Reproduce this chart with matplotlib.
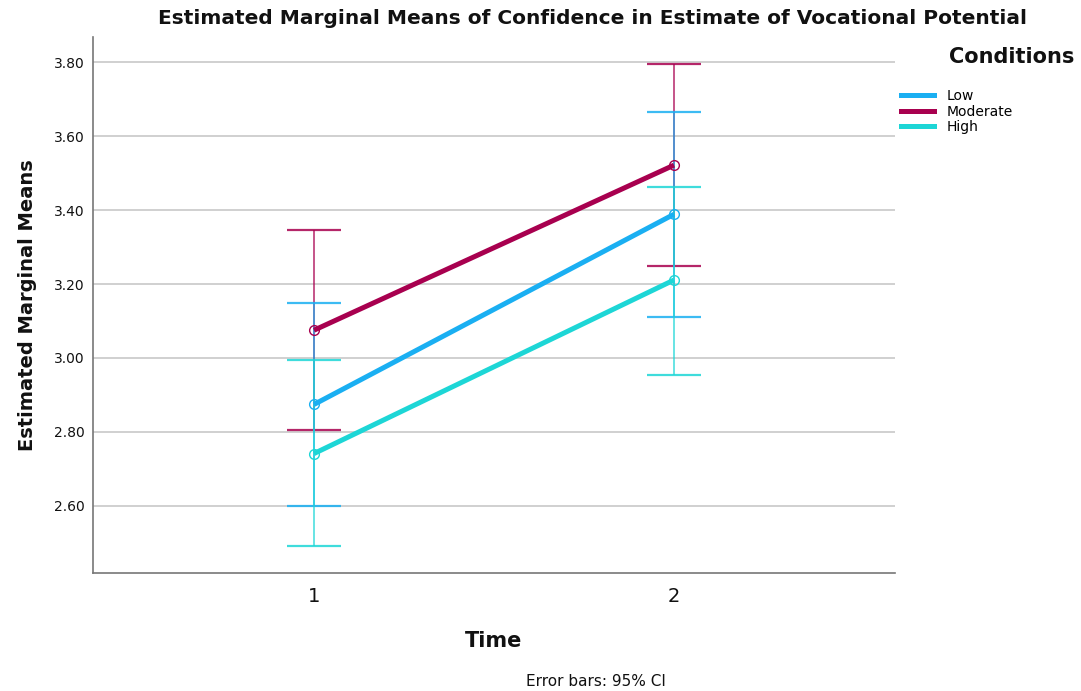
import numpy as np
import matplotlib
matplotlib.use("Agg")
import matplotlib.pyplot as plt
from matplotlib.lines import Line2D

# data
times = [1, 2]
groups = ["Low", "Moderate", "High"]
low_mean = [2.874, 3.389]
low_lo = [2.598, 3.112]
low_hi = [3.148, 3.667]
mod_mean = [3.075, 3.522]
mod_lo = [2.806, 3.249]
mod_hi = [3.346, 3.796]
high_mean = [2.741, 3.211]
high_lo = [2.491, 2.955]
high_hi = [2.994, 3.464]
yticks = [2.6, 2.8, 3.0, 3.2, 3.4, 3.6, 3.8]

COLORS = {"Low": "#1AAFF2", "Moderate": "#A8004F", "High": "#1DD6D6"}
TEXT = "#111111"
GRID = "#C8C8C8"
SPINE = "#777777"

series = {
    "Low": (low_mean, low_lo, low_hi),
    "Moderate": (mod_mean, mod_lo, mod_hi),
    "High": (high_mean, high_lo, high_hi),
}

fig = plt.figure(figsize=(10.81, 6.91), dpi=100)
ax = fig.add_axes([0.086, 0.171, 0.742, 0.776])

# error bars first, moderate underneath
for g in ["Moderate", "Low", "High"]:
    m, lo, hi = series[g]
    m = np.array(m); lo = np.array(lo); hi = np.array(hi)
    ax.errorbar(times, m, yerr=[m - lo, hi - m], fmt="none",
                ecolor=COLORS[g], elinewidth=1.1, capsize=19.5,
                capthick=1.6, alpha=0.85, zorder=2)

for g in groups:
    m, lo, hi = series[g]
    ax.plot(times, m, "-", color=COLORS[g], linewidth=3.6,
            solid_capstyle="butt", zorder=3)
    ax.plot(times, m, "o", markerfacecolor="none",
            markeredgecolor=COLORS[g], markersize=7,
            markeredgewidth=1.0, zorder=4)

ax.set_xlim(0.386, 2.614)
ax.set_ylim(2.418, 3.87)
ax.set_xticks(times)
ax.set_xticklabels([str(t) for t in times], fontsize=14, color=TEXT)
ax.set_yticks(yticks)
ax.set_yticklabels([f"{v:.2f}" for v in yticks], fontsize=10, color=TEXT)
ax.tick_params(axis="both", length=0)
ax.tick_params(axis="x", pad=10)
ax.tick_params(axis="y", pad=6)
ax.yaxis.grid(True, color=GRID, linewidth=1.2)
ax.set_axisbelow(True)
for s in ["top", "right"]:
    ax.spines[s].set_visible(False)
for s in ["bottom", "left"]:
    ax.spines[s].set_color(SPINE)
    ax.spines[s].set_linewidth(1.2)

ax.set_xlabel("Time", fontsize=15, fontweight="bold", color=TEXT, labelpad=18)
ax.set_ylabel("Estimated Marginal Means", fontsize=14, fontweight="bold",
              color=TEXT, labelpad=12)

fig.text(0.548, 0.973, "Estimated Marginal Means of Confidence in Estimate of Vocational Potential",
         ha="center", va="center", fontsize=14.5, fontweight="bold", color=TEXT)
fig.text(0.551, 0.014, "Error bars: 95% CI", ha="center", va="center",
         fontsize=11, color=TEXT)

# legend
fig.text(0.994, 0.917, "Conditions", ha="right", va="center",
         fontsize=15, fontweight="bold", color=TEXT)
handles = [Line2D([0], [0], color=COLORS[g], linewidth=3.6) for g in groups]
fig.legend(handles, groups, loc="upper left", bbox_to_anchor=(0.828, 0.879),
           frameon=False, fontsize=10, handlelength=2.4, handletextpad=0.9,
           labelspacing=0.1, borderaxespad=0)

fig.savefig("out.png", dpi=100)
